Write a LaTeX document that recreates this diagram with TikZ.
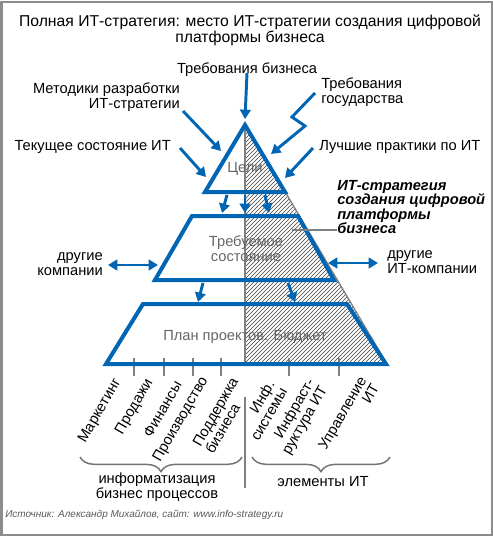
\documentclass[tikz,border=0pt]{standalone}
\usepackage{fontspec}
\setmainfont{Liberation Sans}
\usepackage{xcolor}
\usepackage{tikz}
\usetikzlibrary{positioning,arrows.meta,patterns,decorations.pathreplacing}
\definecolor{itblue}{RGB}{0,102,179}
\tikzstyle{txt} = [font=\fontsize{11}{11}\selectfont, inner sep=0pt, text=black]
\tikzstyle{levelname} = [txt, text=black!60, align=center]
\tikzstyle{turned} = [txt, rotate=60, anchor=east]
\tikzstyle{level} = [draw=itblue, line width=3pt, line join=miter]
\tikzstyle{inflow} = [draw=itblue, line width=2.2pt, ->, >={Triangle[length=7pt,width=8pt]}]
\tikzstyle{both} = [draw=itblue, line width=2.2pt, <->, >={Triangle[length=7pt,width=8pt]}]
\tikzstyle{divider} = [draw=black!50, line width=1pt]
\tikzstyle{brace} = [draw=black!55, line width=1.1pt, decorate, decoration={brace, mirror, amplitude=11pt}]
\begin{document}
\begin{tikzpicture}[x=0.75pt, y=-0.75pt]
          \useasboundingbox (0,0) rectangle (493,536);
          \draw [black!45, line width=1.5pt] (1.5,1.5) rectangle (491.5,534.5);
          \node (title) [txt, font=\fontsize{11.8}{12}\selectfont, align=center] at (250,30) {Полная ИТ-стратегия: место ИТ-стратегии создания цифровой\\платформы бизнеса};

          \coordinate (top) at (245,124);
          \coordinate (foot) at (245,364);
          \coordinate (edge) at (387,364);
          \fill [pattern=north east lines, pattern color=black!75] (top) -- (foot) -- (edge) -- cycle;
          \draw [divider] (top) -- (foot);
          \draw [divider] (top) -- (edge);
          \draw [divider] (134,358) -- (134,376);
          \draw [divider] (164,358) -- (164,376);
          \draw [divider] (193,358) -- (193,376);
          \draw [divider] (221,358) -- (221,376);
          \draw [divider] (289,358) -- (289,376);
          \draw [divider] (339,358) -- (339,376);

          \draw [level] (245,125) -- (205,192) -- (285,192) -- cycle;
          \draw [level] (192,216) -- (298,216) -- (334,280) -- (155,280) -- cycle;
          \draw [level] (143,304) -- (347,304) -- (386,364) -- (106,364) -- cycle;

          \node (goals) [levelname] at (245,169) {Цели};
          \node (target) [levelname] at (246,249) {Требуемое\\состояние};
          \node (plan) [levelname] at (245,337) {План проектов. Бюджет};

          \node (bizreq) [txt] at (247,70) {Требования бизнеса};
          \node (methods) [txt, align=right, anchor=east] at (180,97) {Методики разработки\\ИТ-стратегии};
          \node (govreq) [txt, align=left, anchor=west] at (321,92) {Требования\\государства};
          \node (current) [txt, anchor=east] at (171,147) {Текущее состояние ИТ};
          \node (best) [txt, anchor=west] at (319,147) {Лучшие практики по ИТ};
          \node (strategy) [txt, font=\fontsize{11}{10.8}\selectfont\bfseries\itshape, align=left, anchor=west] at (337,207) {ИТ-стратегия\\создания цифровой\\платформы\\бизнеса};
          \node (others) [txt, align=right, anchor=east] at (103,264) {другие\\компании};
          \node (itothers) [txt, align=left, anchor=west] at (387,262) {другие\\ИТ-компании};

          \coordinate (bizin) at (245,119);
          \coordinate (methodsout) at (183,111);
          \coordinate (methodsin) at (221,151);
          \coordinate (govout) at (315,93);
          \coordinate (govin) at (271,154);
          \coordinate (currentout) at (180,148);
          \coordinate (currentin) at (206,177);
          \coordinate (bestout) at (313,148);
          \coordinate (bestin) at (285,178);
          \draw [inflow] (bizreq.south) ++(0,-4) -- (bizin);
          \draw [inflow] (methodsout) -- (methodsin);
          \draw [inflow, line join=miter] (govout) -- (292,117) -- (305,126) -- (govin);
          \draw [inflow] (currentout) -- (currentin);
          \draw [inflow] (bestout) -- (bestin);

          \draw [inflow] (227,195) -- (222,213);
          \draw [inflow] (245,195) -- (245,213);
          \draw [inflow] (265,195) -- (269,213);
          \draw [inflow] (203,283) -- (198,302);
          \draw [inflow] (288,283) -- (295,302);

          \coordinate (othersout) at (108,265);
          \coordinate (othersin) at (158,265);
          \coordinate (itothersout) at (378,263);
          \coordinate (itothersin) at (328,263);
          \draw [both] (othersout) -- (othersin);
          \draw [both] (itothersin) -- (itothersout);
          \draw [divider] (292,230) -- (337,230);

          \node (market) [turned] at (118,380) {Маркетинг};
          \node (sales) [turned] at (150,380) {Продажи};
          \node (finance) [turned] at (178,382) {Финансы};
          \node (production) [turned] at (205,378) {Производство};
          \node (support) [turned, align=left] at (241,382) {Поддержка\\бизнеса};
          \node (systems) [turned, align=right] at (277,385) {Инф.\\системы};
          \node (infra) [turned, align=right] at (318,384) {Инфраст-\\руктура ИТ};
          \node (manage) [turned, align=right] at (369,381) {Управление\\ИТ};

          \draw [divider] (245,397) -- (245,488);
          \draw [brace] (80,457) -- (242,457);
          \draw [brace] (252,457) -- (390,457);
          \node (bizproc) [txt, align=center] at (157,487) {информатизация\\бизнес процессов};
          \node (itparts) [txt] at (323,482) {элементы ИТ};
          \node (source) [txt, font=\fontsize{7.5}{9}\selectfont\itshape, text=black!65, anchor=west] at (5,515) {Источник: Александр Михайлов, сайт: www.info-strategy.ru};
        \end{tikzpicture}
\end{document}
